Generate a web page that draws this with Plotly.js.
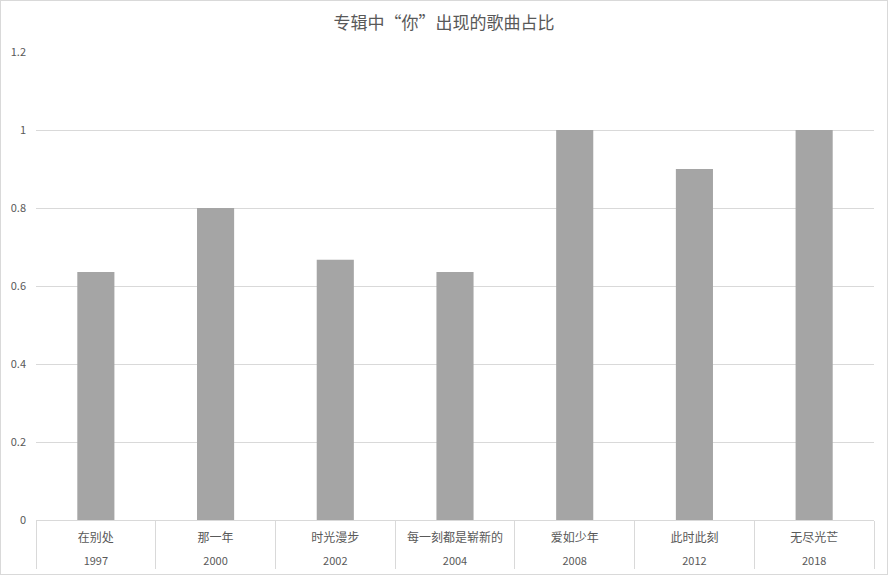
<!DOCTYPE html>
<html>
<head>
<meta charset="utf-8">
<script src="https://cdn.plot.ly/plotly-3.0.1.min.js"></script>
<style>
html,body{margin:0;padding:0;background:#fff;}
#chart{width:886px;height:573px;border:1px solid #d9d9d9;}
</style>
</head>
<body>
<div id="chart"></div>
<script>
const albums = ["在别处", "那一年", "时光漫步", "每一刻都是崭新的", "爱如少年", "此时此刻", "无尽光芒"];
const years = ["1997", "2000", "2002", "2004", "2008", "2012", "2018"];
const ratios = [0.636, 0.8, 0.667, 0.636, 1, 0.9, 1];
const yTicks = [0, 0.2, 0.4, 0.6, 0.8, 1, 1.2];
const yTickText = ["0", "0.2", "0.4", "0.6", "0.8", "1", "1.2"];

const font = '"Noto Sans CJK SC", "Microsoft YaHei", sans-serif';
const catRange = [-0.5, albums.length - 0.5];

Plotly.newPlot('chart', [{
  type: 'bar',
  x: albums,
  y: ratios,
  marker: {color: '#A5A5A5'},
  hoverinfo: 'none'
}, {
  type: 'scatter',
  mode: 'none',
  x: years,
  y: ratios,
  xaxis: 'x2',
  hoverinfo: 'none',
  showlegend: false
}], {
  width: 886, height: 573,
  margin: {l: 35, r: 13, t: 51, b: 54},
  paper_bgcolor: '#ffffff',
  plot_bgcolor: '#ffffff',
  bargap: 0.69,
  showlegend: false,
  title: {
    text: '专辑中“你”出现的歌曲占比',
    x: 0.5, xanchor: 'center',
    y: 0.962, yanchor: 'middle',
    font: {family: font, size: 17, color: '#595959'}
  },
  xaxis: {
    type: 'category',
    range: catRange,
    showline: true, linecolor: '#d9d9d9', linewidth: 1,
    showgrid: false,
    ticks: 'outside', tickson: 'boundaries',
    ticklen: 48, tickwidth: 1, tickcolor: '#d9d9d9',
    ticklabelstandoff: 7,
    tickfont: {family: font, size: 12, color: '#595959'}
  },
  xaxis2: {
    type: 'category',
    overlaying: 'x',
    side: 'bottom',
    anchor: 'y',
    range: catRange,
    showline: false, showgrid: false,
    ticks: '',
    ticklabelstandoff: 33,
    tickfont: {family: font, size: 11, color: '#595959'}
  },
  yaxis: {
    range: [0, 1.2],
    tickvals: yTicks,
    ticktext: yTickText,
    showgrid: true, gridcolor: '#d9d9d9', gridwidth: 1,
    zeroline: false, showline: false,
    ticks: '', ticklen: 0,
    ticklabelstandoff: 9,
    tickfont: {family: font, size: 11, color: '#595959'}
  }
}, {displayModeBar: false, staticPlot: true});
</script>
</body>
</html>
